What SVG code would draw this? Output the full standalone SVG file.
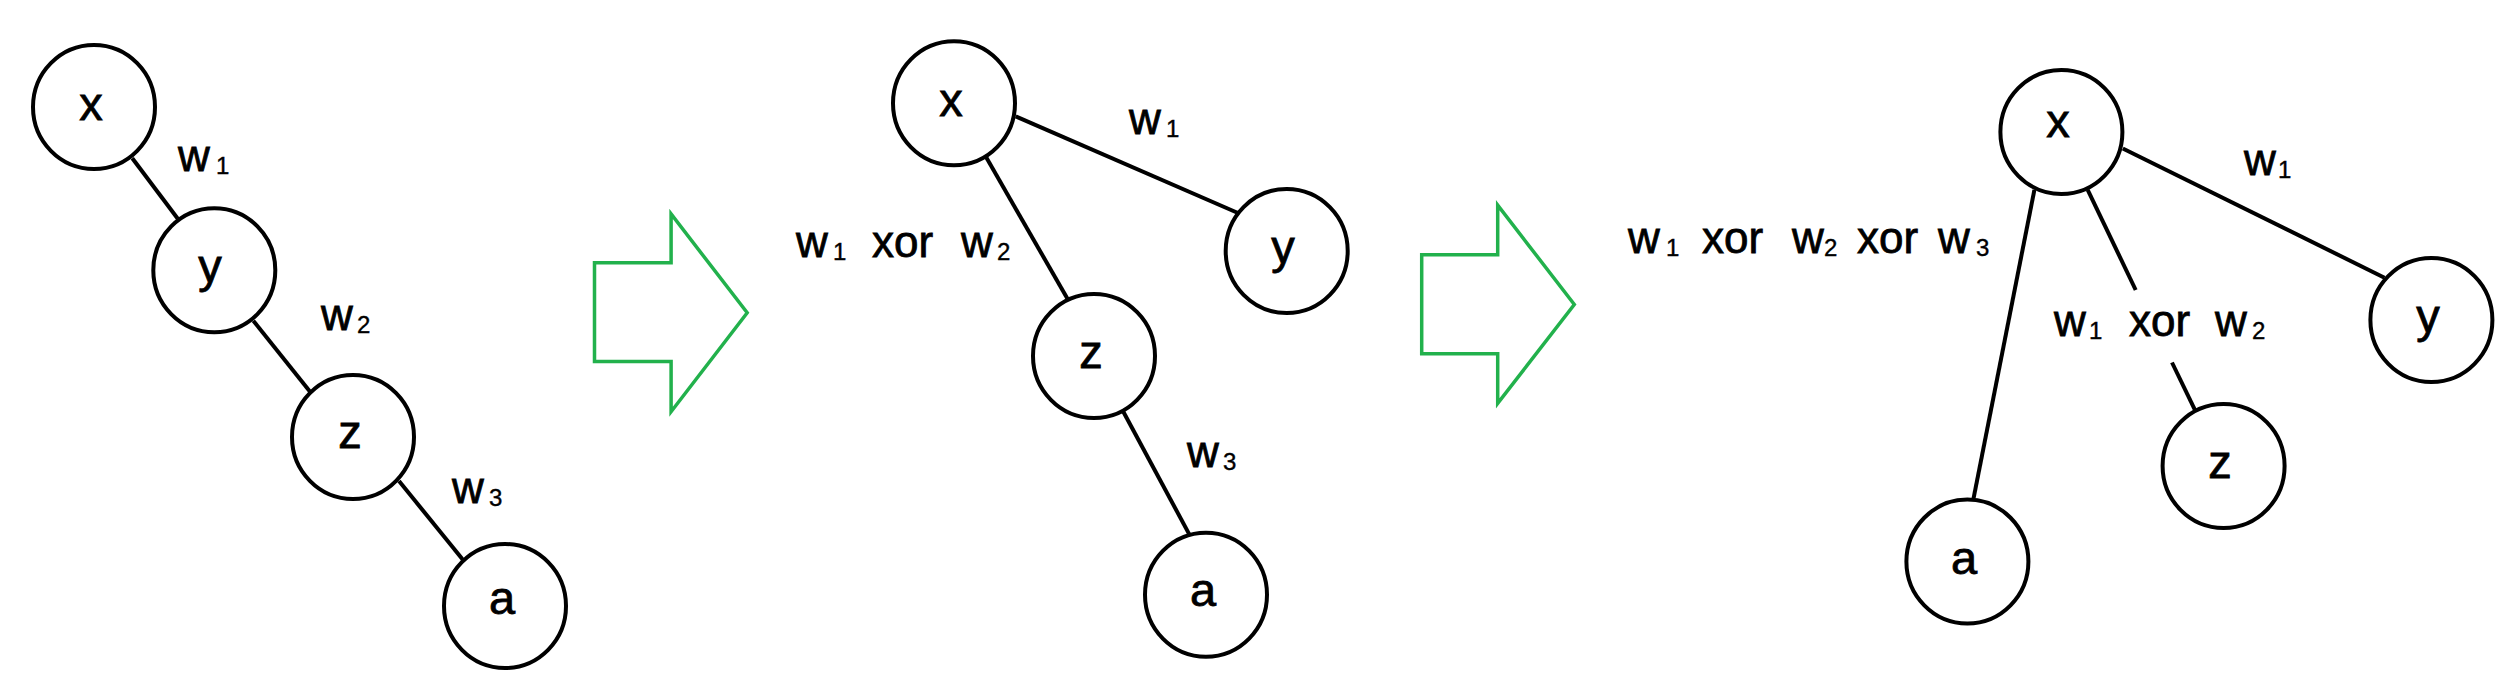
<svg xmlns="http://www.w3.org/2000/svg" width="2518" height="689" viewBox="0 0 2518 689">
<style>
.node ellipse{fill:#fff;stroke:#000;stroke-width:4}
.node text{font-family:"Liberation Sans",Arial,sans-serif;font-size:47px;fill:#000;stroke:#000;stroke-width:0.8;text-anchor:middle}
.lbl{font-family:"Liberation Sans",Arial,sans-serif;font-size:44px;fill:#000;stroke:#000;stroke-width:0.8}
.sub{font-size:24px;stroke-width:0.4}
#edges line{stroke:#000;stroke-width:4;stroke-linecap:butt}
.big-arrow{fill:none;stroke:#22B14C;stroke-width:3.5;stroke-linejoin:miter}
</style>
<rect width="2518" height="689" fill="#fff"/>
<g id="edges">
  <line x1="132.3" y1="158.2" x2="177.8" y2="218.8"/>
  <line x1="253.3" y1="320.7" x2="310.7" y2="392.4"/>
  <line x1="399" y1="481" x2="463.3" y2="560.2"/>
  <line x1="1015.7" y1="116.4" x2="1238" y2="213"/>
  <line x1="986.2" y1="157.3" x2="1068.2" y2="300"/>
  <line x1="1122.8" y1="410.8" x2="1189.7" y2="535.1"/>
  <line x1="2122.8" y1="148.5" x2="2384.5" y2="277.7"/>
  <line x1="2034.4" y1="189.8" x2="1973.5" y2="498.7"/>
  <line x1="2087.7" y1="189.8" x2="2135.7" y2="290"/>
  <line x1="2172" y1="362.5" x2="2195.4" y2="410.8"/>
</g>
<g id="labels">
  <text class="lbl" x="178" y="171">w<tspan class="sub" x="216" dy="3">1</tspan></text>
  <text class="lbl" x="321" y="330">w<tspan class="sub" x="357" dy="3">2</tspan></text>
  <text class="lbl" x="452" y="503">w<tspan class="sub" x="489" dy="3">3</tspan></text>
  <text class="lbl" x="1129" y="134">w<tspan class="sub" x="1166" dy="3">1</tspan></text>
  <text class="lbl" x="796" y="257">w<tspan class="sub" x="833" dy="3">1</tspan><tspan x="872" dy="-3">xor</tspan><tspan x="961">w</tspan><tspan class="sub" x="997" dy="3">2</tspan></text>
  <text class="lbl" x="1187" y="467">w<tspan class="sub" x="1223" dy="3">3</tspan></text>
  <text class="lbl" x="2244" y="175">w<tspan class="sub" x="2278" dy="3">1</tspan></text>
  <text class="lbl" x="1628" y="253">w<tspan class="sub" x="1666" dy="3">1</tspan><tspan x="1702" dy="-3">xor</tspan><tspan x="1792">w</tspan><tspan class="sub" x="1824" dy="3">2</tspan><tspan x="1857" dy="-3">xor</tspan><tspan x="1938">w</tspan><tspan class="sub" x="1976" dy="3">3</tspan></text>
  <text class="lbl" x="2054" y="336">w<tspan class="sub" x="2089" dy="3">1</tspan><tspan x="2129" dy="-3">xor</tspan><tspan x="2215">w</tspan><tspan class="sub" x="2252" dy="3">2</tspan></text>
</g>
<g id="arrow1"><polygon class="big-arrow" points="594.5,262.7 671.1,262.7 671.1,214 747.2,312.8 671.1,411.7 671.1,361.6 594.5,361.6"/></g>
<g id="arrow2"><polygon class="big-arrow" points="1421.7,254.8 1497.7,254.8 1497.7,205.2 1574.3,304.5 1497.7,403.3 1497.7,353.7 1421.7,353.7"/></g>
<g id="p1-x" class="node"><ellipse cx="94" cy="107" rx="61" ry="62"/><text x="91" y="120">x</text></g>
<g id="p1-y" class="node"><ellipse cx="214.3" cy="270.2" rx="61" ry="62"/><text x="210" y="282">y</text></g>
<g id="p1-z" class="node"><ellipse cx="353" cy="437" rx="61" ry="62"/><text x="350" y="448">z</text></g>
<g id="p1-a" class="node"><ellipse cx="505" cy="606" rx="61" ry="62"/><text x="502" y="614">a</text></g>
<g id="p2-x" class="node"><ellipse cx="954" cy="103.3" rx="61" ry="62"/><text x="951" y="116">x</text></g>
<g id="p2-y" class="node"><ellipse cx="1286.7" cy="251" rx="61" ry="62"/><text x="1283" y="263">y</text></g>
<g id="p2-z" class="node"><ellipse cx="1094" cy="356" rx="61" ry="62"/><text x="1091" y="368">z</text></g>
<g id="p2-a" class="node"><ellipse cx="1206" cy="594.7" rx="61" ry="62"/><text x="1203" y="606">a</text></g>
<g id="p3-x" class="node"><ellipse cx="2061.4" cy="132" rx="61" ry="62"/><text x="2058" y="137">x</text></g>
<g id="p3-y" class="node"><ellipse cx="2431.4" cy="320" rx="61" ry="62"/><text x="2428" y="332">y</text></g>
<g id="p3-z" class="node"><ellipse cx="2223.6" cy="466" rx="61" ry="62"/><text x="2220" y="478">z</text></g>
<g id="p3-a" class="node"><ellipse cx="1967.4" cy="561.6" rx="61" ry="62"/><text x="1964" y="574">a</text></g>
</svg>
